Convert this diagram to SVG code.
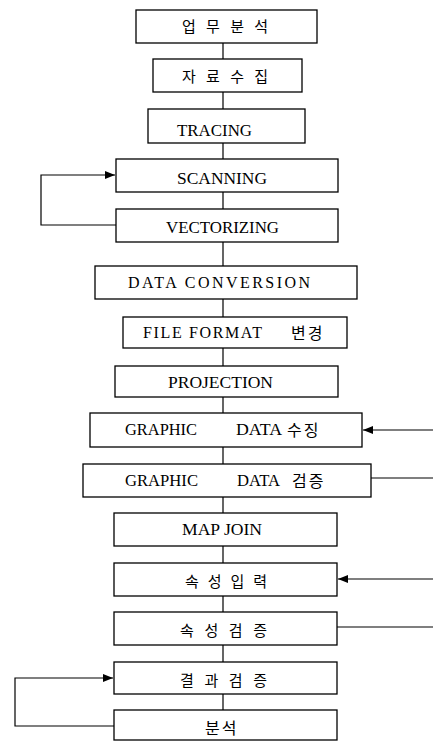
<svg xmlns="http://www.w3.org/2000/svg" width="433" height="741" viewBox="0 0 433 741">
<style>
.box{fill:#fff;stroke:#000;stroke-width:1.3}
.ln{fill:none;stroke:#000;stroke-width:1.2}
.en{font-family:"Liberation Serif","Times New Roman",serif;font-size:16px;fill:#000}
.ko{font-family:"Noto Sans CJK KR","Noto Sans CJK SC",sans-serif;font-size:15px;fill:#000}
.k2{font-family:"Noto Sans CJK KR","Noto Sans CJK SC",sans-serif;font-size:16px;letter-spacing:2px;fill:#000}
</style>
<defs>
<marker id="ah" viewBox="0 0 10 8" refX="10" refY="4" markerWidth="10" markerHeight="8" markerUnits="userSpaceOnUse" orient="auto">
<path d="M0,0 L10,4 L0,8 Z" fill="#000"/>
</marker>
</defs>
<rect width="433" height="741" fill="#fff"/>
<g id="connectors">
<path class="ln" d="M223,43V59M223,92V109M223,143V159M223,192V209M223,242V266M223,299V317M223,348V366M223,397V413M223,447V464M223,497V513M223,546V563M223,596V612M223,645V662M223,694V710"/>
<path class="ln" d="M116,225H41V175H115" marker-end="url(#ah)"/>
<path class="ln" d="M114,726H15V678H113" marker-end="url(#ah)"/>
<path class="ln" d="M433,430H363" marker-end="url(#ah)"/>
<path class="ln" d="M371,478H433"/>
<path class="ln" d="M433,579H338" marker-end="url(#ah)"/>
<path class="ln" d="M337,627H433"/>
</g>
<g id="n1"><rect class="box" x="136" y="10" width="181" height="33"/><text class="ko" x="182" y="32" textLength="86" lengthAdjust="spacing">업 무 분 석</text></g>
<g id="n2"><rect class="box" x="153" y="59" width="149" height="33"/><text class="ko" x="182" y="82" textLength="86" lengthAdjust="spacing">자 료 수 집</text></g>
<g id="n3"><rect class="box" x="148" y="109" width="157" height="34"/><text class="en" x="177" y="136" textLength="75" lengthAdjust="spacingAndGlyphs">TRACING</text></g>
<g id="n4"><rect class="box" x="116" y="159" width="222" height="33"/><text class="en" x="177" y="184" textLength="90" lengthAdjust="spacingAndGlyphs">SCANNING</text></g>
<g id="n5"><rect class="box" x="116" y="209" width="222" height="33"/><text class="en" x="166" y="233" textLength="113" lengthAdjust="spacingAndGlyphs">VECTORIZING</text></g>
<g id="n6"><rect class="box" x="95" y="266" width="262" height="33"/><text class="en" x="128" y="288" textLength="182" lengthAdjust="spacing">DATA  CONVERSION</text></g>
<g id="n7"><rect class="box" x="123" y="317" width="224" height="31"/><text class="en" x="143" y="338" textLength="119" lengthAdjust="spacing">FILE FORMAT</text><text class="k2" x="291" y="339">변경</text></g>
<g id="n8"><rect class="box" x="115" y="366" width="223" height="31"/><text class="en" x="168" y="388" textLength="105" lengthAdjust="spacingAndGlyphs">PROJECTION</text></g>
<g id="n9"><rect class="box" x="90" y="413" width="272" height="34"/><text class="en" x="125" y="435" textLength="72" lengthAdjust="spacingAndGlyphs">GRAPHIC</text><text class="en" x="236" y="435" textLength="46" lengthAdjust="spacingAndGlyphs">DATA</text><text class="k2" x="287" y="436">수징</text></g>
<g id="n10"><rect class="box" x="83" y="464" width="288" height="33"/><text class="en" x="125" y="486" textLength="73" lengthAdjust="spacingAndGlyphs">GRAPHIC</text><text class="en" x="237" y="486" textLength="43" lengthAdjust="spacingAndGlyphs">DATA</text><text class="k2" x="292" y="487">검증</text></g>
<g id="n11"><rect class="box" x="114" y="513" width="223" height="33"/><text class="en" x="182" y="535" textLength="80" lengthAdjust="spacingAndGlyphs">MAP JOIN</text></g>
<g id="n12"><rect class="box" x="114" y="563" width="223" height="33"/><text class="ko" x="185" y="587" textLength="82" lengthAdjust="spacing">속 성 입 력</text></g>
<g id="n13"><rect class="box" x="114" y="612" width="223" height="33"/><text class="ko" x="180" y="636" textLength="87" lengthAdjust="spacing">속 성 검 증</text></g>
<g id="n14"><rect class="box" x="114" y="662" width="223" height="32"/><text class="ko" x="180" y="686" textLength="87" lengthAdjust="spacing">결 과 검 증</text></g>
<g id="n15"><rect class="box" x="114" y="710" width="223" height="30"/><text class="k2" x="205" y="734" letter-spacing="4">분석</text></g>
</svg>
